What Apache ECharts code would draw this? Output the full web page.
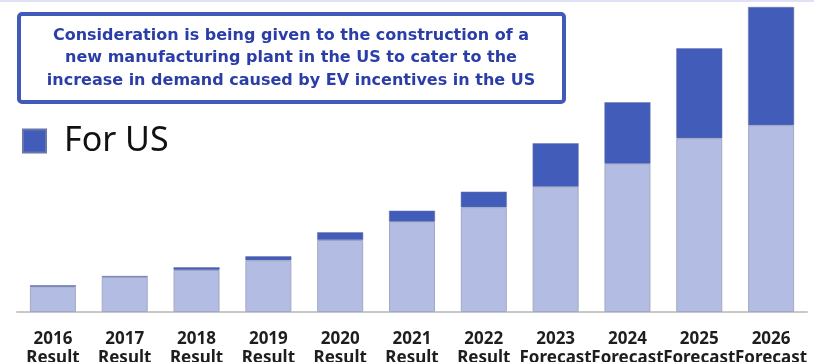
<!DOCTYPE html>
<html>
<head>
<meta charset="utf-8">
<script src="https://cdn.jsdelivr.net/npm/echarts@6/dist/echarts.min.js"></script>
<style>
  html, body { margin: 0; padding: 0; background: #fff; }
  #chart { width: 814px; height: 362px; }
</style>
</head>
<body>
<div id="chart"></div>
<script>
// Fiscal years and whether each is an actual result or a forecast
const years = ['2016', '2017', '2018', '2019', '2020', '2021', '2022', '2023', '2024', '2025', '2026'];
const kinds = ['Result', 'Result', 'Result', 'Result', 'Result', 'Result', 'Result', 'Forecast', 'Forecast', 'Forecast', 'Forecast'];

// Stacked volumes (relative units): other markets and the US portion on top
const otherVolume = [25.3, 35.0, 42.0, 51.7, 72.0, 90.3, 104.7, 125.3, 148.3, 173.7, 186.7];
const usVolume = [1.4, 1.0, 2.7, 4.0, 7.7, 11.0, 15.6, 43.4, 61.4, 90.0, 118.3];

const noteLines = [
  'Consideration is being given to the construction of a',
  'new manufacturing plant in the US to cater to the',
  'increase in demand caused by EV incentives in the US'
];

const FONT = '"Noto Sans", "Noto Sans CJK JP", sans-serif';
const NOTE_FONT = '"DejaVu Sans", "Noto Sans", sans-serif';
const chart = echarts.init(document.getElementById('chart'));

chart.setOption({
  animation: false,
  backgroundColor: '#ffffff',
  textStyle: { fontFamily: FONT },
  grid: { left: 17, right: 7, top: 7, bottom: 50, containLabel: false, outerBoundsMode: 'none' },
  legend: {
    data: ['For US'],
    left: 22,
    top: 124,
    padding: 0,
    icon: 'rect',
    itemWidth: 23,
    itemHeight: 23,
    textStyle: { fontSize: 34, lineHeight: 34, color: '#111', fontFamily: FONT, padding: [0, 0, 0, 13] },
    selectedMode: false
  },
  xAxis: {
    type: 'category',
    data: years,
    axisLine: { show: true, lineStyle: { color: '#c8c8c8', width: 2 } },
    axisTick: { show: false },
    axisLabel: {
      interval: 0,
      margin: 18,
      fontSize: 17,
      fontWeight: 'bold',
      color: '#1e1e1e',
      lineHeight: 19,
      fontFamily: FONT,
      formatter: function (v, i) { return v + '\n' + kinds[i]; }
    }
  },
  yAxis: {
    type: 'value',
    min: 0,
    max: 305,
    show: false,
    splitLine: { show: false }
  },
  series: [
    {
      name: 'Other',
      type: 'bar',
      stack: 'total',
      barWidth: 46,
      data: otherVolume,
      itemStyle: { color: '#b3bde3', borderColor: '#a3a8c2', borderWidth: 1 }
    },
    {
      name: 'For US',
      type: 'bar',
      stack: 'total',
      barWidth: 46,
      data: usVolume,
      itemStyle: { color: '#425cb9', borderColor: '#6a76a8', borderWidth: 0.5 }
    }
  ],
  graphic: [
    {
      type: 'rect',
      left: 0, top: 0,
      shape: { width: 814, height: 2 },
      style: { fill: '#dfe2f4' },
      silent: true
    },
    {
      type: 'rect',
      shape: { x: 19, y: 14, width: 545, height: 88, r: 3 },
      style: { fill: '#ffffff', stroke: '#4159b8', lineWidth: 4 },
      silent: true
    },
    {
      type: 'text',
      x: 291,
      y: 58,
      style: {
        text: noteLines.join('\n'),
        fill: '#2b3ea8',
        font: 'bold 16px ' + NOTE_FONT,
        lineHeight: 22.5,
        align: 'center',
        verticalAlign: 'middle'
      },
      silent: true
    }
  ]
});
</script>
</body>
</html>
